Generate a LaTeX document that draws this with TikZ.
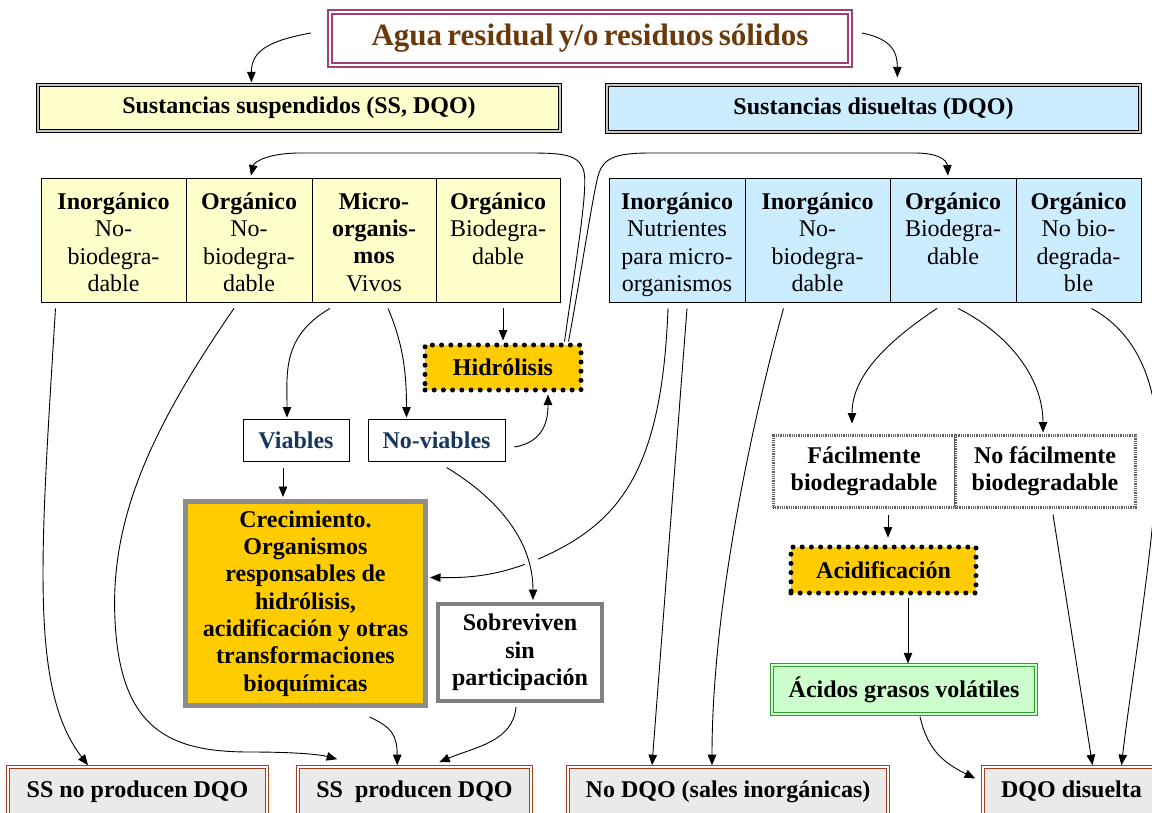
\documentclass[tikz,border=0pt]{standalone}
\usepackage{fontspec}
\setmainfont{Liberation Serif}
\usetikzlibrary{arrows.meta,calc}
\definecolor{yel}{HTML}{FFFFCC}
\definecolor{blu}{HTML}{CCECFF}
\definecolor{gold}{HTML}{FFCC00}
\definecolor{grn}{HTML}{CCFFCC}
\definecolor{grnd}{HTML}{339933}
\definecolor{brn}{HTML}{A0401A}
\definecolor{botf}{HTML}{EAEAEA}
\definecolor{mag}{HTML}{A0406E}
\definecolor{ttl}{HTML}{6B3A0B}
\definecolor{navy}{HTML}{17375E}
\definecolor{gborder}{HTML}{8C8C8C}
\newcommand{\fl}{\rule{0pt}{21pt}}
\newcommand{\tightsp}{\spaceskip=0.17em\relax}
\begin{document}
\begin{tikzpicture}[x=1pt,y=-1pt,
  arr/.style={-{Triangle[length=10.5pt,width=8.5pt]}, line width=0.9pt},
  txt/.style={font=\fontsize{24}{27.3}\selectfont\bfseries, align=center, inner sep=0pt},
  titlebox/.style={draw=mag, double=white, double distance=2.5pt, line width=1.4pt, fill=white, text=ttl, align=center, inner sep=0pt, font=\fontsize{31}{34}\selectfont\bfseries},
  ssbox/.style={txt, draw=black, double=gray!45, double distance=1.6pt, line width=1.3pt},
  cell/.style={draw=black, line width=0.8pt, minimum height=124pt, inner sep=0pt, align=center, font=\fontsize{24}{27.3}\selectfont},
  dotbox/.style={txt, fill=gold, draw=black, line width=5pt, dash pattern=on 0pt off 9.2pt, line cap=round},
  plainbox/.style={txt, fill=white, draw=black, line width=1pt, text=navy},
  growbox/.style={txt, fill=gold, draw=gborder, line width=5pt},
  survbox/.style={txt, fill=white, draw=gray, line width=4pt},
  facbox/.style={txt, fill=white, draw=gray!75!black, line width=3pt, dash pattern=on 1pt off 0.8pt},
  agbox/.style={txt, fill=grn, draw=grnd, double=grn, double distance=2pt, line width=1.3pt},
  botbox/.style={txt, fill=botf, draw=brn, double=white, double distance=1.6pt, line width=1.6pt}
]
\useasboundingbox (0,0) rectangle (1152,812);
\fill[white] (0,0) rectangle (1152,812);
\clip (0,0) rectangle (1152,812);

% top
\node[titlebox, minimum width=520pt, minimum height=53pt] (title) at (590,38.5) {\tightsp Agua residual y/o residuos sólidos};
\node[ssbox, fill=yel, minimum width=522pt, minimum height=46pt] (ss) at (299,108) {Sustancias suspendidos (SS, DQO)};
\node[ssbox, fill=blu, minimum width=533pt, minimum height=47pt] (ds) at (873.5,108.5) {Sustancias disueltas (DQO)};
\coordinate (tl) at (311,33);
\coordinate (tr) at (862,33);

% left table
\node[cell, fill=yel, minimum width=145pt] (l1) at (113.5,240) {\fl\textbf{Inorgánico}\\No-\\biodegra-\\dable};
\node[cell, fill=yel, minimum width=126pt] (l2) at (249,240) {\fl\textbf{Orgánico}\\No-\\biodegra-\\dable};
\node[cell, fill=yel, minimum width=124pt] (l3) at (374,240) {\fl\textbf{Micro-}\\\textbf{organis-}\\\textbf{mos}\\Vivos};
\node[cell, fill=yel, minimum width=124pt] (l4) at (498,240) {\fl\textbf{Orgánico}\\Biodegra-\\dable\\\mbox{}};

% right table
\node[cell, fill=blu, minimum width=136pt] (r1) at (677,240) {\fl\textbf{Inorgánico}\\Nutrientes\\para micro-\\\smash{organismos}};
\node[cell, fill=blu, minimum width=145pt] (r2) at (817.5,240) {\fl\textbf{Inorgánico}\\No-\\biodegra-\\dable};
\node[cell, fill=blu, minimum width=126pt] (r3) at (953,240) {\fl\textbf{Orgánico}\\Biodegra-\\dable\\\mbox{}};
\node[cell, fill=blu, minimum width=125pt] (r4) at (1078.5,240) {\fl\textbf{Orgánico}\\No bio-\\degrada-\\ble};

% middle left
\node[dotbox, minimum width=156pt, minimum height=45pt] (hid) at (503,367.5) {Hidrólisis};
\node[plainbox, minimum width=106pt, minimum height=42pt] (vi) at (296,440) {Viables};
\node[plainbox, minimum width=137pt, minimum height=42pt] (nv) at (436.5,440) {No-viables};
\node[growbox, minimum width=240pt, minimum height=204pt] (cre) at (305.5,603.5) {Crecimiento.\\Organismos\\responsables de\\hidrólisis,\\acidificación y otras\\transformaciones\\bioquímicas};
\node[survbox, minimum width=164pt, minimum height=97pt] (so) at (520,652.5) {Sobreviven\\sin\\participación};

% middle right
\node[facbox, minimum width=182pt, minimum height=72pt] (fa) at (864,471) {Fácilmente\\biodegradable};
\node[facbox, minimum width=180pt, minimum height=72pt] (nf) at (1045,471) {No fácilmente\\biodegradable};
\node[dotbox, minimum width=185pt, minimum height=46pt] (ac) at (883.5,570) {Acidificación};
\node[agbox, minimum width=264pt, minimum height=49pt] (ag) at (904,689.5) {Ácidos grasos volátiles};

% bottom
\node[botbox, minimum width=259pt, minimum height=49pt] (sn) at (137.5,791.5) {SS no producen DQO};
\node[botbox, minimum width=233pt, minimum height=49pt] (sp) at (414.5,791.5) {SS\ \ producen DQO};
\node[botbox, minimum width=320pt, minimum height=49pt] (nd) at (728,791.5) {No DQO (sales inorgánicas)};
\node[botbox, minimum width=177pt, minimum height=49pt] (dd) at (1071.5,791.5) {DQO disuelta};

% connectors
\draw[arr] (tl) .. controls +(-45,8) and +(0,-30) .. ($(ss.north west)+(214,-2)$);
\draw[arr] (tr) .. controls +(30,6) and +(0,-25) .. ($(ds.north west)+(291,-7)$);

\draw[arr] ($(hid.north east)+(-19,-1)$) .. controls (576,260) and (588,190) .. (584,172)
   .. controls (580,155) and (565,153) .. (530,153) -- (300,153)
   .. controls (268,153) and (254,162) .. ($(l2.north)+(2,-2)$);
\draw[arr] ($(hid.north east)+(-15,-1)$) .. controls (580,280) and (592,200) .. (598,176)
   .. controls (603,158) and (615,153) .. (650,153) -- (915,153)
   .. controls (938,153) and (947,160) .. ($(r3.north)+(-5,-2)$);

\draw[arr] ($(hid.north |- l4.south)+(0,6)$) -- ($(hid.north)+(0,-2)$);
\draw[arr] ($(l3.south)+(-44,6)$) .. controls +(-48,28) and +(0,-45) .. ($(vi.north)+(-9,-1)$);
\draw[arr] ($(l3.south)+(14,6)$) .. controls +(15,35) and +(0,-45) .. ($(nv.north)+(-30,-1)$);
\draw[arr] ($(nv.east)+(9,7)$) .. controls +(30,-5) and +(0,25) .. ($(hid.south)+(45,2)$);
\draw[arr] ($(vi.south)+(-13,6)$) -- ($(vi.south |- cre.north)+(-13,-2)$);

\draw[arr] ($(r1.south)+(-9,6)$) .. controls (662,470) and (620,522) .. (543,557)
   .. controls (500,576) and (470,578) .. ($(cre.east)+(2,-26)$);
\draw[arr, preaction={draw=white, line width=14pt, -, shorten <=70pt, shorten >=25pt}]
   ($(nv.south)+(10,6)$) .. controls +(50,30) and +(0,-60) .. ($(so.north)+(13,-2)$);

\draw[arr] ($(r1.south)+(10,6)$) -- ($(nd.north)+(-76,-1)$);
\draw[arr] ($(r2.south)+(-34,6)$) .. controls +(-25,90) and +(0,-170) .. ($(nd.north)+(-16,-1)$);
\draw[arr] ($(r3.south)+(-16,6)$) .. controls +(-45,30) and +(0,-50) .. ($(fa.north)+(-12,-10)$);
\draw[arr] ($(r3.south)+(5,6)$) .. controls +(50,25) and +(0,-55) .. ($(nf.north)+(-2,-1)$);
\draw[arr] ($(r4.south)+(13,6)$) .. controls (1140,335) and (1162,390) .. (1157,470)
   .. controls (1152,560) and (1130,690) .. ($(dd.north)+(50,-1)$);
\draw[arr] ($(nf.south)+(8,6)$) -- ($(dd.north)+(21,-1)$);
\draw[arr] ($(fa.south)+(24,6)$) -- ($(ac.north -| fa.south)+(24,-7)$);
\draw[arr] ($(ac.south)+(24.5,2)$) -- ($(ag.north)+(4,-1)$);
\draw[arr] ($(ag.south)+(16,2)$) .. controls +(8,35) and +(-30,-15) .. ($(dd.west)+(-7,-13)$);

\draw[arr] ($(l1.south)+(-58,6)$) .. controls (40,560) and (30,690) .. ($(sn.north)+(-49.5,-1)$);
\draw[arr] ($(l2.south)+(-15,6)$) .. controls (150,430) and (110,520) .. (115,620)
   .. controls (120,730) and (170,752) .. (250,752)
   .. controls (300,752) and (322,755) .. ($(sp.north west)+(40,-7)$);
\draw[arr] ($(cre.south)+(64,9)$) .. controls +(22,10) and +(0,-30) .. ($(sp.north west)+(100,-1)$);
\draw[arr] ($(so.south)+(-4,4)$) .. controls +(-3,35) and +(35,-15) .. ($(sp.north west)+(142,-4)$);
\end{tikzpicture}
\end{document}
